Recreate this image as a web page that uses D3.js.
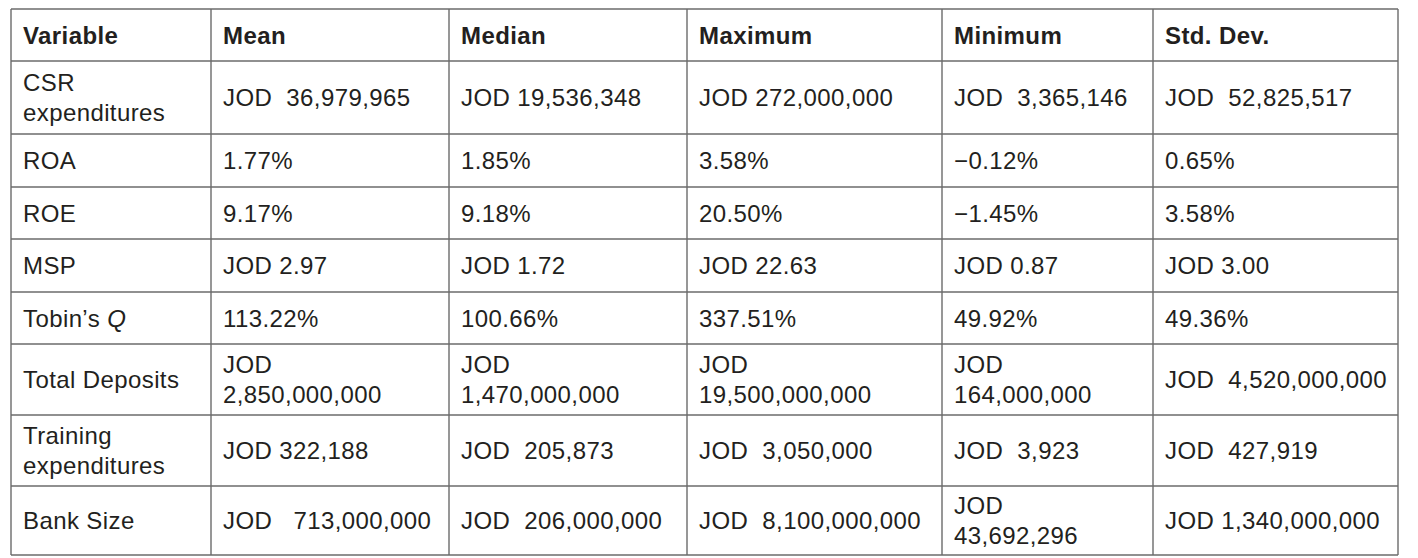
<!DOCTYPE html>
<html lang="en">

<head>
  <meta charset="UTF-8">
  <title>Descriptive statistics</title>
  <script src="https://cdn.jsdelivr.net/npm/d3@7/dist/d3.min.js"></script>
  <style>
    body { margin: 0; background: #fff; }
    text { font-family: "Liberation Sans", Arial, sans-serif; white-space: pre; }
  </style>
</head>

<body>
  <svg></svg>

  <script>
    const width = 1418;
    const height = 558;

    // table content
    const headers = ["Variable", "Mean", "Median", "Maximum", "Minimum", "Std. Dev."];
    const variables = ["CSR\nexpenditures", "ROA", "ROE", "MSP", "Tobin’s *Q*", "Total Deposits", "Training\nexpenditures", "Bank Size"];
    const meanVals = ["JOD  36,979,965", "1.77%", "9.17%", "JOD 2.97", "113.22%", "JOD\n2,850,000,000", "JOD 322,188", "JOD   713,000,000"];
    const medianVals = ["JOD 19,536,348", "1.85%", "9.18%", "JOD 1.72", "100.66%", "JOD\n1,470,000,000", "JOD  205,873", "JOD  206,000,000"];
    const maxVals = ["JOD 272,000,000", "3.58%", "20.50%", "JOD 22.63", "337.51%", "JOD\n19,500,000,000", "JOD  3,050,000", "JOD  8,100,000,000"];
    const minVals = ["JOD  3,365,146", "−0.12%", "−1.45%", "JOD 0.87", "49.92%", "JOD\n164,000,000", "JOD  3,923", "JOD\n43,692,296"];
    const stdVals = ["JOD  52,825,517", "0.65%", "3.58%", "JOD 3.00", "49.36%", "JOD  4,520,000,000", "JOD  427,919", "JOD 1,340,000,000"];

    // layout: column and row edges in pixels
    const colEdges = [11, 211, 449, 687, 942, 1153, 1398];
    const rowEdges = [9, 61, 134, 187, 239, 292, 344, 415, 486, 555];
    const fontSize = 24;
    const lineH = 30.5;
    const padX = 12;

    const columns = [variables, meanVals, medianVals, maxVals, minVals, stdVals];

    // each cell -> {r, c, text, bold}
    const cells = [];
    headers.forEach((h, c) => cells.push({ r: 0, c, text: h, bold: true }));
    columns.forEach((col, c) => col.forEach((t, i) => cells.push({ r: i + 1, c, text: t, bold: false })));

    const x = d3.scaleOrdinal().domain(d3.range(headers.length + 1)).range(colEdges);
    const y = d3.scaleOrdinal().domain(d3.range(rowEdges.length)).range(rowEdges);

    const svg = d3.select("svg").attr("width", width).attr("height", height);

    // cell text
    const txt = svg.selectAll("text.cell").data(cells).enter().append("text")
      .attr("class", "cell")
      .attr("font-size", fontSize)
      .attr("letter-spacing", 0.4)
      .attr("font-weight", d => d.bold ? "bold" : "normal")
      .attr("fill", "#231f20");

    txt.each(function (d) {
      const lines = d.text.split("\n");
      const mid = (y(d.r) + y(d.r + 1)) / 2;
      const y0 = mid - (lines.length - 1) * lineH / 2 + fontSize * 0.36;
      const t = d3.select(this);
      lines.forEach((ln, k) => {
        // *...* marks italic parts
        const parts = ln.split("*");
        let first = true;
        parts.forEach((p, j) => {
          if (!p) return;
          const ts = t.append("tspan").text(p).attr("font-style", j % 2 ? "italic" : "normal");
          if (first) {
            ts.attr("x", x(d.c) + padX).attr("y", y0 + k * lineH);
            first = false;
          }
        });
      });
    });

    // grid lines
    const grid = svg.append("g").attr("stroke", "#6b6b6b").attr("stroke-width", 1.4);
    grid.selectAll("line.h").data(rowEdges).enter().append("line")
      .attr("x1", colEdges[0]).attr("x2", colEdges[colEdges.length - 1])
      .attr("y1", d => d).attr("y2", d => d);
    grid.selectAll("line.v").data(colEdges).enter().append("line")
      .attr("y1", rowEdges[0]).attr("y2", rowEdges[rowEdges.length - 1])
      .attr("x1", d => d).attr("x2", d => d);
  </script>
</body>

</html>
